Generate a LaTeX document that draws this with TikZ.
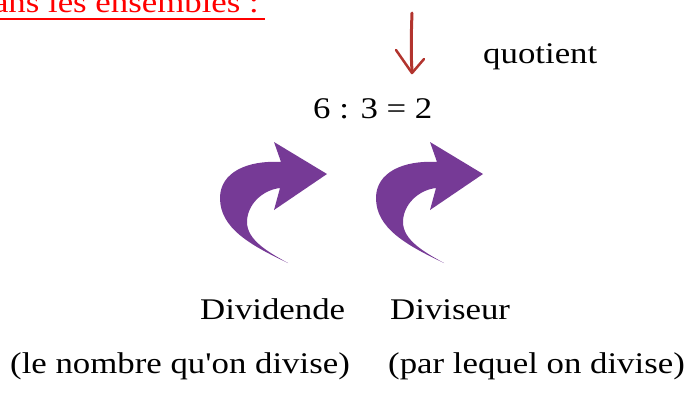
\documentclass[tikz,border=0pt]{standalone}
\usepackage{fontspec}
\setmainfont{Liberation Serif}[FakeStretch=1.16, Ligatures=TeXOff]
\definecolor{headred}{RGB}{255,0,0}
\definecolor{penred}{RGB}{178,52,46}
\definecolor{arrowpurple}{RGB}{118,58,150}
\tikzset{
  txt/.style={inner sep=0pt, font=\fontsize{30}{36}\selectfont, anchor=base west},
  pen/.style={draw=penred, line cap=round, line join=round},
  purplearrow/.style={fill=arrowpurple, draw=none}
}
\begin{document}
\begin{tikzpicture}[x=1pt,y=-1pt]
\useasboundingbox (0,0) rectangle (688,392);
% heading (cut off)
\node[txt, anchor=base east, text=headred] (head) at (259,12) {dans les ensembles :};
\draw[headred, line width=2pt] (-5,19) -- (265,19);
% quotient arrow
\draw[pen, line width=3pt] (412,13) .. controls (411,40) and (411,55) .. (412,71);
\draw[pen, line width=2.5pt] (396,50) -- (412,73) -- (424,59);
\node[txt] (quot) at (483,63) {quotient};
\node[txt] (eq) at (313,118) {6 : 3 = 2};
% purple arrows
\foreach \dx in {0,156}{
\begin{scope}[shift={(\dx,0)}]
\path[purplearrow] (288,263) .. controls (250,245) and (220,228) .. (220,198)
  .. controls (220,172) and (248,160) .. (281,162) -- (274,142) -- (327,174)
  -- (274,210) -- (280,188) .. controls (262,190) and (247,205) .. (247,222)
  .. controls (247,240) and (268,252) .. (288,263) -- cycle;
\end{scope}
}
\node[txt] (dividende) at (200,319) {Dividende};
\node[txt] (diviseur) at (390,319) {Diviseur};
\node[txt] (d1) at (10,373) {(le nombre qu'on divise)};
\node[txt] (d2) at (388,373) {(par lequel on divise)};
\end{tikzpicture}
\end{document}
